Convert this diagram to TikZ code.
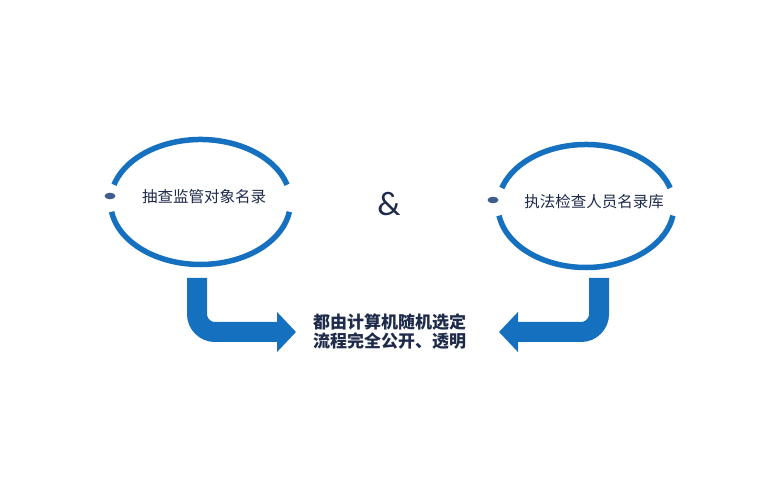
\documentclass[tikz,border=0pt]{standalone}
\usepackage{fontspec}
\newfontfamily\cjk{Noto Sans CJK SC}
\newfontfamily\amp{Carlito}
\usetikzlibrary{arrows.meta}
\definecolor{ringblue}{HTML}{1670C0}
\definecolor{arrowblue}{HTML}{1670C0}
\definecolor{navy}{HTML}{1E2B4A}
\definecolor{dotblue}{HTML}{3F5C8E}
\tikzset{
  ring/.style={draw=ringblue, line width=5.5pt},
  dotmark/.style={fill=dotblue, draw=none},
  label/.style={font=\cjk\fontsize{15.5}{18}\selectfont, text=navy, inner sep=0pt},
  midtext/.style={font=\cjk\bfseries\fontsize{17}{19}\selectfont, text=navy, align=left, inner sep=0pt},
  bigarrow/.style={draw=arrowblue, line width=20pt, rounded corners=18pt,
    -{Triangle[length=19pt,width=39pt]}, color=arrowblue}
}
\begin{document}
\begin{tikzpicture}[x=1pt,y=1pt]
\fill[white] (0,0) rectangle (773,497);
\useasboundingbox (0,0) rectangle (773,497);
% left ring
\coordinate (LC) at (200.5,295);
\draw[ring] (LC) ++(16:90pt and 62.5pt) arc[start angle=16,end angle=164,x radius=90pt,y radius=62.5pt];
\draw[ring] (LC) ++(189:90pt and 62.5pt) arc[start angle=189,end angle=351,x radius=90pt,y radius=62.5pt];
\fill[dotmark] (110,301) ellipse[x radius=5.5pt,y radius=3.3pt];
\node[label] (L) at (204,300) {抽查监管对象名录};
% right ring
\coordinate (RC) at (586,291);
\draw[ring] (RC) ++(17:88pt and 61.5pt) arc[start angle=17,end angle=163,x radius=88pt,y radius=61.5pt];
\draw[ring] (RC) ++(189:88pt and 61.5pt) arc[start angle=189,end angle=351,x radius=88pt,y radius=61.5pt];
\fill[dotmark] (493,297) ellipse[x radius=5.5pt,y radius=3.3pt];
\node[label] (R) at (594,295.5) {执法检查人员名录库};
% ampersand
\node[font=\amp\fontsize{34}{36}\selectfont, text=navy, inner sep=0pt] (A) at (389,293) {\&};
% middle text
\node[midtext, anchor=west] (M) at (313,165) {都由计算机随机选定\\流程完全公开、透明};
% arrows
\coordinate (la) at (197,219);
\coordinate (lt) at (296,165);
\coordinate (ra) at (599,219);
\coordinate (rt) at (499,165);
\draw[bigarrow] (la) |- (lt);
\draw[bigarrow] (ra) |- (rt);
\end{tikzpicture}
\end{document}
